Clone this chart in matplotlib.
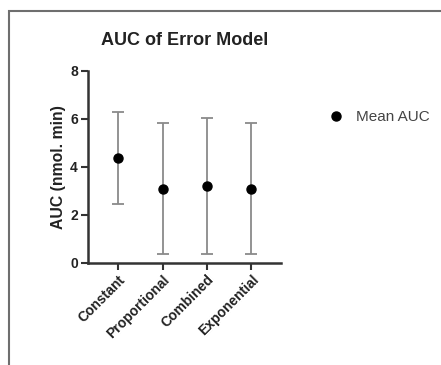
import matplotlib
matplotlib.use("Agg")
import matplotlib.pyplot as plt
from matplotlib.patches import Rectangle
from matplotlib.lines import Line2D

categories = ["Constant", "Proportional", "Combined", "Exponential"]
mean_auc = [4.37, 3.09, 3.19, 3.09]
upper = [6.30, 5.84, 6.05, 5.84]
lower = [2.46, 0.36, 0.36, 0.36]

plt.rcParams['font.family'] = ['Liberation Sans', 'DejaVu Sans']

fig = plt.figure(figsize=(4.41, 3.65), dpi=100)
fig.patches.append(Rectangle((9/441, -0.1), 1.2, 1 - 11/365 + 0.1, transform=fig.transFigure,
                             fill=False, edgecolor='#6e6e6e', linewidth=1.5))

ax = fig.add_axes([87.5/441, 1 - 262.7/365, (281 - 87.5)/441, (262.7 - 71)/365])
x = list(range(len(categories)))
yerr = [[m - l for m, l in zip(mean_auc, lower)], [u - m for m, u in zip(mean_auc, upper)]]
ax.errorbar(x, mean_auc, yerr=yerr, fmt='none', ecolor='#8a8a8a', elinewidth=1.3,
            capsize=4, capthick=1.3, zorder=2)
ax.plot(x, mean_auc, 'o', color='black', markersize=6.5, zorder=3)

ax.set_xlim(-0.7, 3.67)
ax.set_ylim(0, 8)
ax.set_yticks([0, 2, 4, 6, 8])
ax.set_xticks(x)
ax.set_xticklabels(categories, rotation=45, ha='right', rotation_mode='anchor',
                   fontsize=10, fontweight='bold', color='#222222')
for lab in ax.get_yticklabels():
    lab.set_fontweight('bold'); lab.set_fontsize(10); lab.set_color('#222222')
for s in ['top', 'right']:
    ax.spines[s].set_visible(False)
for s in ['left', 'bottom']:
    ax.spines[s].set_linewidth(1.8)
    ax.spines[s].set_color('#333333')
ax.tick_params(axis='both', direction='out', length=5, width=1.5, color='#333333', pad=2)
ax.set_ylabel("AUC (nmol. min)", fontsize=11.3, fontweight='bold', color='#222222', labelpad=3)
ax.set_title("AUC of Error Model", fontsize=13, fontweight='bold', color='#222222', pad=19)

handle = Line2D([], [], marker='o', color='black', linestyle='none', markersize=6.5)
fig.legend([handle], ["Mean AUC"], loc='center left', bbox_to_anchor=(310/441, 1 - 117/365),
           frameon=False, fontsize=11, labelcolor='#444444', handletextpad=0.5,
           handlelength=1.6)

fig.savefig("out.png", dpi=100)
